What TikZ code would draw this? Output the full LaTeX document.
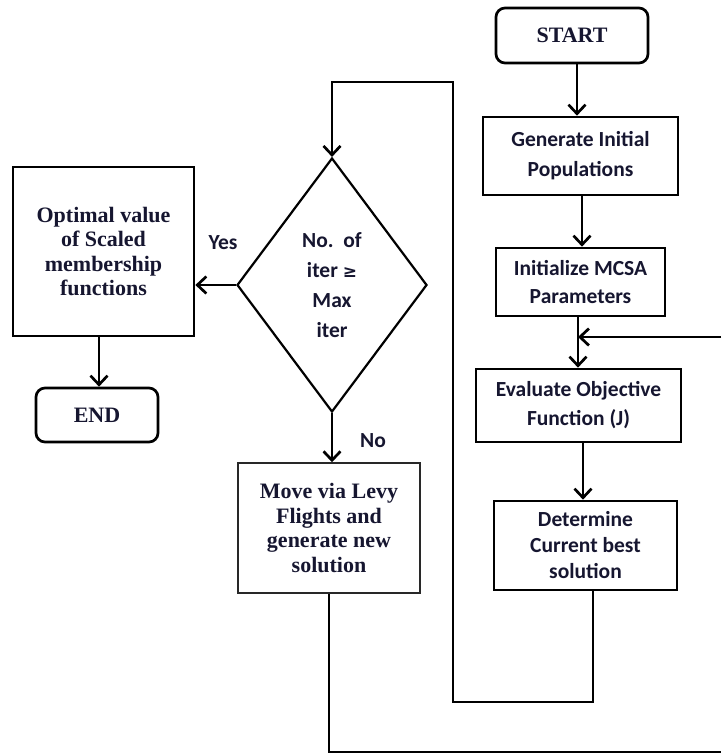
\documentclass[tikz,border=0pt]{standalone}
\usepackage{fontspec}
\setmainfont{Liberation Serif}
\newfontfamily\calib{Carlito}
\newfontfamily\dvs{DejaVu Sans}
\usetikzlibrary{arrows.meta,shapes.geometric}
\definecolor{txt}{RGB}{22,22,48}
\begin{document}
\begin{tikzpicture}[x=1pt,y=-1pt,
  sbox/.style={draw, line width=2.7pt, inner sep=0pt, align=center, text=txt,
    font={\calib\bfseries\fontsize{21.5pt}{30pt}\selectfont}},
  tbox/.style={draw, line width=2.7pt, inner sep=0pt, align=center, text=txt,
    font={\bfseries\fontsize{22pt}{24.5pt}\selectfont}},
  rbox/.style={tbox, rounded corners=9pt},
  lbl/.style={text=txt, inner sep=0pt, font={\calib\bfseries\fontsize{21.5pt}{30pt}\selectfont}},
  conn/.style={line width=2.7pt},
  arr/.style={line width=2.7pt, -{Straight Barb[length=9pt,width=17pt]}}
]
\useasboundingbox[fill=white] (0,0) rectangle (721,753);

% right column
\node[rbox, minimum width=152pt, minimum height=55pt] (start) at (572,35.5) {START};
\node[sbox, minimum width=195pt, minimum height=78pt] (gen) at (580.5,156) {Generate Initial\\Populations};
\node[sbox, minimum width=169pt, minimum height=68pt, font={\calib\bfseries\fontsize{21.5pt}{28pt}\selectfont}] (init) at (580.5,282) {Initialize MCSA\\Parameters};
\node[sbox, minimum width=205pt, minimum height=73pt, font={\calib\bfseries\fontsize{21.5pt}{29pt}\selectfont}] (eval) at (578.5,405.5) {Evaluate Objective\\Function (J)};
\node[sbox, minimum width=183pt, minimum height=89pt, font={\calib\bfseries\fontsize{21.5pt}{26pt}\selectfont}] (det) at (585.5,545.5) {Determine\\Current best\\solution};

% decision
\node[diamond, draw, line width=2.2pt, minimum width=190pt, minimum height=254pt, aspect=0.75,
  inner sep=0pt, align=center, text=txt,
  font={\calib\bfseries\fontsize{21.5pt}{30pt}\selectfont}] (dia) at (332,285)
  {No.\ \ of\\iter {\dvs\fontsize{17pt}{30pt}\selectfont ≥}\\Max\\iter};

% left column
\node[tbox, minimum width=181pt, minimum height=169pt] (opt) at (103.5,251.5) {Optimal value\\of Scaled\\membership\\functions};
\node[rbox, minimum width=122pt, minimum height=54pt] (endn) at (97,415) {END};
\node[tbox, line width=1.5pt, draw={rgb,255:red,40;green,40;blue,40}, minimum width=182pt, minimum height=130pt] (move) at (329,528) {Move via Levy\\Flights and\\generate new\\solution};

% labels
\node[lbl] (yes) at (223,243) {Yes};
\node[lbl] (no) at (373,441) {No};

% connectors
\draw[arr] ([xshift=5pt]start.south) -- ([xshift=5pt]start.south |- gen.north);
\draw[arr] ([xshift=1.5pt]gen.south) -- ([xshift=1.5pt]gen.south |- init.north);
\coordinate (mid) at ([xshift=-2.5pt]init.south);
\draw[arr] (mid) -- (mid |- eval.north);
\draw[arr] ([xshift=4.5pt]eval.south) -- ([xshift=4.5pt]eval.south |- det.north);

\coordinate (detout) at ([xshift=7.5pt]det.south);
\coordinate (bl) at (453,702);
\coordinate (tl) at (332,82);
\draw[arr, line join=miter] (detout) |- (bl) |- (tl) -- (dia.north);

\draw[arr] (dia.west) -- (dia.west -| opt.east);
\draw[arr] ([xshift=-4.5pt]opt.south) -- ([xshift=-4.5pt]opt.south |- endn.north);
\draw[arr] (dia.south) -- (dia.south |- move.north);

\coordinate (br) at (721,752.5);
\draw[conn] (move.south) |- (br);
\coordinate (fb) at (721,337);
\draw[arr] (fb) -- (fb -| mid);
\end{tikzpicture}
\end{document}
